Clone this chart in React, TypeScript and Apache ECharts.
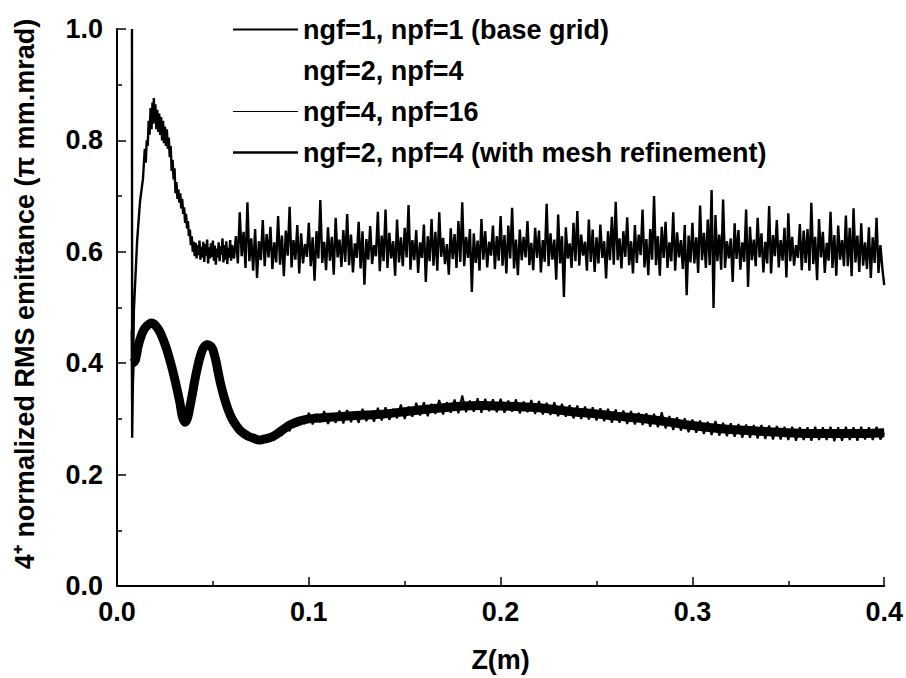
import React, { useEffect, useRef } from "react";
import * as echarts from "echarts";

const FONT = '"Liberation Sans", Arial, Helvetica, sans-serif';

const seriesNames = [
  "ngf=1, npf=1 (base grid)",
  "ngf=2, npf=4",
  "ngf=4, npf=16",
  "ngf=2, npf=4 (with mesh refinement)",
];

const xTickLabels = ["0.0", "0.1", "0.2", "0.3", "0.4"];
const yTickLabels = ["0.0", "0.2", "0.4", "0.6", "0.8", "1.0"];
const xTitle = "Z(m)";
const yTitle = "4\u207A normalized RMS emittance (\u03C0 mm.mrad)";

// base grid: early transient and first peak (z, emittance)
const baseEarly: [number, number][] = [
  [0.0078, 1.0], [0.0079, 0.266], [0.0088, 0.495], [0.0105, 0.62], [0.012, 0.69],
  [0.0135, 0.73], [0.0145, 0.785], [0.015, 0.76], [0.0155, 0.8], [0.016, 0.79],
  [0.0165, 0.835], [0.017, 0.81], [0.0175, 0.858], [0.018, 0.82], [0.0185, 0.868],
  [0.019, 0.83], [0.0192, 0.876], [0.0195, 0.835], [0.02, 0.865], [0.0205, 0.82],
  [0.021, 0.855], [0.0215, 0.815], [0.022, 0.848], [0.0225, 0.81], [0.023, 0.842],
  [0.0235, 0.8], [0.024, 0.835], [0.0245, 0.795], [0.025, 0.825], [0.0255, 0.79],
  [0.026, 0.82], [0.0265, 0.785], [0.027, 0.805], [0.0275, 0.77], [0.028, 0.79],
  [0.0285, 0.745], [0.029, 0.765], [0.0295, 0.73], [0.03, 0.75], [0.0305, 0.705],
  [0.031, 0.725], [0.0315, 0.695], [0.032, 0.712], [0.0325, 0.688], [0.033, 0.705],
  [0.0335, 0.678], [0.034, 0.695], [0.0345, 0.668], [0.035, 0.68], [0.0355, 0.652],
  [0.036, 0.668], [0.0365, 0.642], [0.037, 0.655], [0.0375, 0.628], [0.038, 0.64],
  [0.0385, 0.612], [0.039, 0.628], [0.0395, 0.6], [0.04, 0.618], [0.0405, 0.592],
  [0.041, 0.616], [0.0415, 0.588], [0.042, 0.612], [0.0425, 0.594], [0.043, 0.62],
  [0.0435, 0.586], [0.044, 0.609], [0.0445, 0.59], [0.045, 0.618], [0.0455, 0.582],
  [0.046, 0.614], [0.0465, 0.593], [0.047, 0.622], [0.0475, 0.579], [0.048, 0.608],
  [0.0485, 0.588], [0.049, 0.615], [0.0495, 0.591], [0.05, 0.62], [0.0505, 0.584],
  [0.051, 0.611], [0.0515, 0.577], [0.052, 0.606], [0.0525, 0.59], [0.053, 0.617],
  [0.0535, 0.583], [0.054, 0.61], [0.0545, 0.595], [0.055, 0.624], [0.0555, 0.581],
  [0.056, 0.612], [0.0565, 0.586], [0.057, 0.619], [0.0575, 0.578], [0.058, 0.607],
  [0.0585, 0.589], [0.059, 0.621], [0.0595, 0.584],
];

// base grid: noisy plateau, sampled every 0.001 from z = 0.060 to 0.400
const baseNoiseStart = 0.06;
const baseNoiseStep = 0.001;
const baseNoise = [
  0.612, 0.588, 0.628, 0.579, 0.671, 0.592, 0.636, 0.571, 0.689, 0.583, 0.624, 0.566, 0.641, 0.553, 0.619, 0.585, 0.657, 0.574, 0.632, 0.59,
  0.645, 0.569, 0.617, 0.581, 0.664, 0.577, 0.629, 0.556, 0.638, 0.593, 0.681, 0.572, 0.621, 0.586, 0.648, 0.561, 0.633, 0.579, 0.614, 0.591,
  0.652, 0.574, 0.626, 0.548, 0.637, 0.588, 0.693, 0.58, 0.618, 0.567, 0.644, 0.584, 0.627, 0.559, 0.661, 0.59, 0.622, 0.573, 0.639, 0.582,
  0.668, 0.576, 0.631, 0.563, 0.615, 0.589, 0.654, 0.57, 0.637, 0.541, 0.623, 0.586, 0.646, 0.578, 0.612, 0.592, 0.672, 0.565, 0.629, 0.583,
  0.676, 0.571, 0.634, 0.588, 0.619, 0.557, 0.658, 0.581, 0.626, 0.574, 0.643, 0.59, 0.684, 0.568, 0.621, 0.585, 0.639, 0.562, 0.617, 0.589,
  0.649, 0.546, 0.628, 0.583, 0.659, 0.575, 0.636, 0.566, 0.671, 0.591, 0.625, 0.578, 0.614, 0.559, 0.642, 0.587, 0.632, 0.571, 0.655, 0.582,
  0.689, 0.574, 0.627, 0.589, 0.641, 0.528, 0.633, 0.58, 0.62, 0.566, 0.659, 0.586, 0.637, 0.572, 0.618, 0.593, 0.647, 0.569, 0.628, 0.584,
  0.664, 0.575, 0.63, 0.561, 0.647, 0.588, 0.679, 0.57, 0.622, 0.558, 0.64, 0.585, 0.627, 0.59, 0.655, 0.576, 0.616, 0.567, 0.643, 0.589,
  0.638, 0.563, 0.621, 0.582, 0.686, 0.574, 0.633, 0.586, 0.622, 0.55, 0.667, 0.579, 0.628, 0.519, 0.644, 0.588, 0.615, 0.571, 0.652, 0.583,
  0.673, 0.575, 0.631, 0.593, 0.618, 0.566, 0.658, 0.582, 0.64, 0.564, 0.626, 0.579, 0.649, 0.589, 0.619, 0.552, 0.637, 0.585, 0.663, 0.577,
  0.69, 0.585, 0.624, 0.57, 0.637, 0.591, 0.662, 0.576, 0.619, 0.561, 0.648, 0.58, 0.631, 0.594, 0.676, 0.572, 0.623, 0.558, 0.641, 0.586,
  0.7, 0.576, 0.628, 0.557, 0.645, 0.589, 0.654, 0.571, 0.617, 0.583, 0.671, 0.566, 0.635, 0.59, 0.621, 0.569, 0.648, 0.522, 0.629, 0.581,
  0.652, 0.579, 0.626, 0.562, 0.683, 0.585, 0.634, 0.571, 0.658, 0.576, 0.711, 0.499, 0.666, 0.583, 0.631, 0.568, 0.694, 0.571, 0.619, 0.588,
  0.624, 0.546, 0.651, 0.587, 0.639, 0.568, 0.617, 0.582, 0.676, 0.537, 0.645, 0.585, 0.622, 0.574, 0.661, 0.59, 0.633, 0.563, 0.618, 0.579,
  0.682, 0.561, 0.63, 0.592, 0.657, 0.572, 0.621, 0.584, 0.643, 0.554, 0.669, 0.583, 0.627, 0.575, 0.612, 0.589, 0.65, 0.567, 0.638, 0.58,
  0.641, 0.566, 0.688, 0.578, 0.627, 0.549, 0.659, 0.59, 0.636, 0.562, 0.616, 0.584, 0.672, 0.571, 0.63, 0.557, 0.647, 0.586, 0.621, 0.574,
  0.665, 0.574, 0.643, 0.556, 0.678, 0.581, 0.629, 0.564, 0.651, 0.575, 0.617, 0.569, 0.644, 0.553, 0.626, 0.58, 0.661, 0.562, 0.612, 0.571,
  0.54,
];

// mesh refinement: centre line of the lower band
const meshLine: [number, number][] = [
  [0.008, 0.4], [0.0095, 0.405], [0.011, 0.43], [0.0125, 0.448], [0.014, 0.46],
  [0.0156, 0.467], [0.018, 0.472], [0.02, 0.468], [0.0224, 0.456], [0.024, 0.443],
  [0.026, 0.424], [0.028, 0.4], [0.03, 0.373], [0.0315, 0.35], [0.0328, 0.329],
  [0.034, 0.305], [0.0354, 0.294], [0.0368, 0.302], [0.038, 0.321], [0.0393, 0.345],
  [0.0406, 0.37], [0.042, 0.393], [0.0432, 0.41], [0.045, 0.427], [0.0473, 0.433],
  [0.049, 0.43], [0.05, 0.424], [0.0515, 0.405], [0.0525, 0.388], [0.054, 0.363],
  [0.056, 0.337], [0.058, 0.316], [0.06, 0.3], [0.062, 0.289], [0.064, 0.28],
  [0.0665, 0.273], [0.069, 0.268], [0.0715, 0.265], [0.074, 0.262], [0.077, 0.264],
  [0.0796, 0.266], [0.0825, 0.271], [0.085, 0.277], [0.0875, 0.283], [0.09, 0.289],
  [0.095, 0.296], [0.1, 0.3], [0.11, 0.303], [0.12, 0.305], [0.13, 0.307],
  [0.14, 0.309], [0.15, 0.313], [0.16, 0.317], [0.17, 0.32], [0.18, 0.323],
  [0.19, 0.324], [0.2, 0.323], [0.21, 0.322], [0.22, 0.32], [0.23, 0.316],
  [0.24, 0.312], [0.25, 0.309], [0.26, 0.305], [0.27, 0.302], [0.28, 0.298],
  [0.29, 0.293], [0.3, 0.288], [0.31, 0.284], [0.32, 0.281], [0.33, 0.279],
  [0.34, 0.277], [0.35, 0.275], [0.36, 0.274], [0.37, 0.274], [0.38, 0.274],
  [0.39, 0.274], [0.4, 0.275],
];

// ngf=2, npf=4 (very light curve, lies under the lower band)
const coarseLine: [number, number][] = [
  [0.008, 0.39], [0.012, 0.445], [0.018, 0.47], [0.024, 0.44], [0.03, 0.37],
  [0.0354, 0.296], [0.04, 0.36], [0.0473, 0.43], [0.054, 0.36], [0.06, 0.3],
  [0.074, 0.263], [0.09, 0.29], [0.12, 0.305], [0.16, 0.318], [0.2, 0.323],
  [0.24, 0.312], [0.28, 0.298], [0.32, 0.281], [0.36, 0.274], [0.4, 0.275],
];

// ngf=4, npf=16: early part (z, emittance)
const fineEarly: [number, number][] = [
  [0.0076, 0.46], [0.0078, 0.33], [0.0081, 0.43], [0.0084, 0.37], [0.0088, 0.41],
  [0.01, 0.415], [0.011, 0.432], [0.012, 0.44], [0.013, 0.458], [0.014, 0.455],
  [0.015, 0.471], [0.016, 0.465], [0.017, 0.479], [0.018, 0.468], [0.019, 0.478],
  [0.02, 0.462], [0.021, 0.468], [0.022, 0.452], [0.023, 0.455], [0.024, 0.436],
  [0.025, 0.437], [0.026, 0.418], [0.027, 0.414], [0.028, 0.396], [0.029, 0.389],
  [0.03, 0.368], [0.031, 0.36], [0.032, 0.338], [0.033, 0.324], [0.034, 0.3],
  [0.0354, 0.288], [0.037, 0.304], [0.038, 0.318], [0.039, 0.341], [0.04, 0.355],
  [0.041, 0.38], [0.042, 0.388], [0.043, 0.412], [0.044, 0.418], [0.045, 0.432],
  [0.046, 0.43], [0.047, 0.44], [0.048, 0.43], [0.049, 0.436], [0.05, 0.418],
  [0.051, 0.412], [0.052, 0.39], [0.053, 0.383], [0.054, 0.358], [0.055, 0.353],
  [0.056, 0.332], [0.057, 0.329], [0.058, 0.31], [0.059, 0.312],
];

// ngf=4, npf=16: sampled every 0.002 from z = 0.060 to 0.400
const fineNoiseStart = 0.06;
const fineNoiseStep = 0.002;
const fineNoise = [
  0.305, 0.284, 0.286, 0.268, 0.276, 0.262, 0.271, 0.258, 0.268, 0.258,
  0.272, 0.262, 0.281, 0.27, 0.289, 0.278, 0.298, 0.287, 0.303, 0.291,
  0.311, 0.29, 0.309, 0.294, 0.314, 0.291, 0.308, 0.293, 0.315, 0.292,
  0.316, 0.294, 0.312, 0.293, 0.318, 0.296, 0.313, 0.295, 0.32, 0.297,
  0.321, 0.298, 0.318, 0.301, 0.326, 0.3, 0.322, 0.304, 0.329, 0.306,
  0.33, 0.305, 0.327, 0.309, 0.334, 0.308, 0.33, 0.311, 0.335, 0.31,
  0.342, 0.312, 0.333, 0.313, 0.337, 0.311, 0.336, 0.314, 0.335, 0.312,
  0.336, 0.311, 0.333, 0.313, 0.335, 0.31, 0.331, 0.312, 0.334, 0.309,
  0.332, 0.308, 0.329, 0.307, 0.33, 0.305, 0.327, 0.304, 0.325, 0.301,
  0.324, 0.3, 0.322, 0.299, 0.321, 0.297, 0.319, 0.296, 0.318, 0.293,
  0.317, 0.293, 0.315, 0.291, 0.314, 0.29, 0.311, 0.289, 0.31, 0.286,
  0.309, 0.285, 0.312, 0.283, 0.305, 0.28, 0.303, 0.279, 0.301, 0.276,
  0.299, 0.275, 0.297, 0.273, 0.295, 0.271, 0.296, 0.27, 0.293, 0.269,
  0.292, 0.268, 0.291, 0.266, 0.29, 0.266, 0.289, 0.265, 0.289, 0.264,
  0.288, 0.263, 0.287, 0.263, 0.286, 0.262, 0.286, 0.261, 0.285, 0.262,
  0.285, 0.261, 0.286, 0.262, 0.285, 0.262, 0.286, 0.26, 0.285, 0.261,
  0.286, 0.262, 0.285, 0.261, 0.286, 0.263, 0.285, 0.262, 0.286, 0.263,
  0.275,
];

const stepped = (start: number, step: number, vals: number[]): [number, number][] =>
  vals.map((v, i) => [+(start + i * step).toFixed(4), v]);

const legendBar = (h: number) => `path://M0 0H65V${h}H0Z`;

export default function App() {
  const ref = useRef<HTMLDivElement>(null);
  useEffect(() => {
    if (!ref.current) return;
    const chart = echarts.init(ref.current, undefined, { renderer: "svg" });
    const baseData = [...baseEarly, ...stepped(baseNoiseStart, baseNoiseStep, baseNoise)];
    const fineData = [...fineEarly, ...stepped(fineNoiseStart, fineNoiseStep, fineNoise)];
    const txt = { fontFamily: FONT, fontWeight: "bold" as const, color: "#000" };
    chart.setOption({
      animation: false,
      backgroundColor: "#fff",
      grid: { left: 117, right: 20, top: 29, bottom: 92, containLabel: false },
      legend: {
        orient: "vertical",
        left: 233,
        top: 16,
        padding: 0,
        itemWidth: 65,
        itemHeight: 12,
        itemGap: 14,
        selectedMode: false,
        textStyle: { ...txt, fontSize: 27 },
        data: [
          { name: seriesNames[0], icon: legendBar(2), itemStyle: { color: "#000", borderWidth: 0 } },
          { name: seriesNames[1], icon: legendBar(2), itemStyle: { color: "#fff", borderWidth: 0 } },
          { name: seriesNames[2], icon: legendBar(1), itemStyle: { color: "#000", borderWidth: 0 } },
          { name: seriesNames[3], icon: legendBar(2.5), itemStyle: { color: "#000", borderWidth: 0 } },
        ],
      },
      xAxis: {
        type: "value",
        min: 0,
        max: 0.4,
        interval: 0.1,
        name: xTitle,
        nameLocation: "middle",
        nameGap: 60,
        nameTextStyle: { ...txt, fontSize: 27 },
        axisLine: { show: true, onZero: false, lineStyle: { color: "#000", width: 2 } },
        axisTick: { show: true, inside: true, length: 9, lineStyle: { color: "#000", width: 1.5 } },
        minorTick: { show: true, splitNumber: 2, length: 5, lineStyle: { color: "#000", width: 1.5 } },
        splitLine: { show: false },
        axisLabel: {
          ...txt,
          fontSize: 27,
          margin: 12,
          formatter: (v: number) => xTickLabels[Math.round(v * 10)] ?? "",
        },
      },
      yAxis: {
        type: "value",
        min: 0,
        max: 1,
        interval: 0.2,
        axisLine: { show: true, onZero: false, lineStyle: { color: "#000", width: 2 } },
        axisTick: { show: true, inside: true, length: 9, lineStyle: { color: "#000", width: 1.5 } },
        minorTick: { show: true, splitNumber: 2, length: 5, lineStyle: { color: "#000", width: 1.5 } },
        splitLine: { show: false },
        axisLabel: {
          ...txt,
          fontSize: 27,
          margin: 14,
          formatter: (v: number) => yTickLabels[Math.round(v * 5)] ?? "",
        },
      },
      graphic: [
        {
          type: "text",
          x: 25,
          y: 294,
          rotation: Math.PI / 2,
          style: {
            text: yTitle,
            font: `bold 27px ${FONT}`,
            fill: "#000",
            textAlign: "center",
            textVerticalAlign: "middle",
            align: "center",
            verticalAlign: "middle",
          },
        },
      ],
      series: [
        {
          name: seriesNames[0],
          type: "line",
          data: baseData,
          symbol: "none",
          z: 4,
          lineStyle: { color: "#000", width: 2.4 },
          itemStyle: { color: "#000" },
        },
        {
          name: seriesNames[1],
          type: "line",
          data: coarseLine,
          symbol: "none",
          z: 1,
          lineStyle: { color: "#fff", width: 2 },
          itemStyle: { color: "#fff" },
        },
        {
          name: seriesNames[2],
          type: "line",
          data: fineData,
          symbol: "none",
          z: 3,
          lineStyle: { color: "#000", width: 2 },
          itemStyle: { color: "#000" },
        },
        {
          name: seriesNames[3],
          type: "line",
          data: meshLine,
          symbol: "none",
          smooth: 0.3,
          z: 2,
          lineStyle: { color: "#000", width: 9 },
          itemStyle: { color: "#000" },
        },
      ],
    });
    return () => chart.dispose();
  }, []);
  return (
    <div
      ref={ref}
      style={{ position: "fixed", left: 0, top: 0, width: 906, height: 678, background: "#fff" }}
    />
  );
}
